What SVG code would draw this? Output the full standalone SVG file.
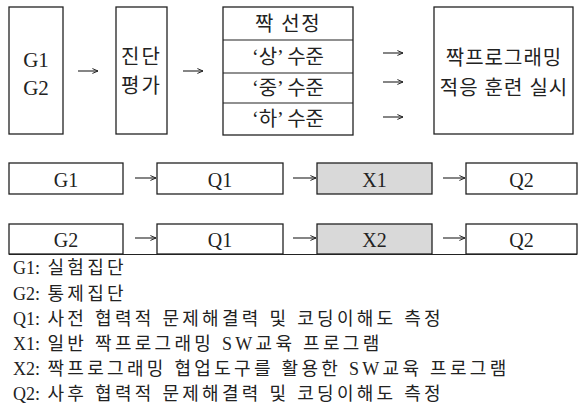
<svg xmlns="http://www.w3.org/2000/svg" width="586" height="409" viewBox="0 0 586 409">
<defs>
<style>
.box{fill:#ffffff;stroke:#222;stroke-width:1.3}
.gray{fill:#d9d9d9;stroke:#222;stroke-width:1.3}
.t{font-family:"Liberation Serif","Noto Sans CJK KR",serif;fill:#222;text-anchor:middle}
.big{font-size:21px}
.mid{font-size:20px}
.leg{font-family:"Liberation Serif","Noto Sans CJK KR",serif;font-size:18px;fill:#222}
.ko{letter-spacing:3.3px}
.arr{stroke:#222;stroke-width:1.1;fill:none}
</style>
<marker id="ah" viewBox="0 0 10 10" refX="9" refY="5" markerWidth="7" markerHeight="7" markerUnits="userSpaceOnUse" orient="auto">
<path d="M1,1.5 L9,5 L1,8.5" fill="none" stroke="#222" stroke-width="1.4"/>
</marker>
</defs>
<rect width="586" height="409" fill="#ffffff"/>

<g id="node-groups">
<rect class="box" x="9" y="7" width="54" height="127"/>
<text class="t big" x="36" y="67">G1</text>
<text class="t big" x="36" y="95">G2</text>
</g>

<g id="node-diagnosis">
<rect class="box" x="116" y="7" width="51" height="127"/>
<text class="t mid" x="141.5" y="64" letter-spacing="2">진단</text>
<text class="t mid" x="141.5" y="93" letter-spacing="2">평가</text>
</g>

<g id="node-pair">
<rect class="box" x="223" y="7" width="130" height="128"/>
<line class="arr" x1="223" y1="40" x2="353" y2="40"/>
<line class="arr" x1="223" y1="73" x2="353" y2="73"/>
<line class="arr" x1="223" y1="103" x2="353" y2="103"/>
<text class="t mid" x="288" y="31" letter-spacing="1.5">짝 선정</text>
<text class="t mid" x="288" y="64">‘상’ 수준</text>
<text class="t mid" x="288" y="95">‘중’ 수준</text>
<text class="t mid" x="288" y="126">‘하’ 수준</text>
</g>

<g id="node-training">
<rect class="box" x="434" y="7" width="139" height="127"/>
<text class="t mid" x="504" y="65" letter-spacing="1">짝프로그래밍</text>
<text class="t mid" x="504" y="95" letter-spacing="1">적응 훈련 실시</text>
</g>

<g id="node-row1">
<rect class="box" x="9" y="163" width="114" height="31"/>
<text class="t mid" x="66" y="187">G1</text>
<rect class="box" x="157" y="163" width="126" height="31"/>
<text class="t mid" x="220" y="187">Q1</text>
<rect class="gray" x="317" y="163" width="115" height="31"/>
<text class="t mid" x="374.5" y="187">X1</text>
<rect class="box" x="466" y="163" width="111" height="31"/>
<text class="t mid" x="521.5" y="187">Q2</text>
</g>

<g id="node-row2">
<rect class="box" x="9" y="224" width="114" height="30"/>
<text class="t mid" x="66" y="247">G2</text>
<rect class="box" x="157" y="224" width="126" height="30"/>
<text class="t mid" x="220" y="247">Q1</text>
<rect class="gray" x="317" y="224" width="115" height="30"/>
<text class="t mid" x="374.5" y="247">X2</text>
<rect class="box" x="466" y="224" width="111" height="30"/>
<text class="t mid" x="521.5" y="247">Q2</text>
<line class="arr" x1="9" y1="254.5" x2="577" y2="254.5" stroke-width="1.4"/>
</g>

<g id="connectors">
<path class="arr" d="M78,71 H98" marker-end="url(#ah)"/>
<path class="arr" d="M183,71 H203" marker-end="url(#ah)"/>
<path class="arr" d="M383,53 H403" marker-end="url(#ah)"/>
<path class="arr" d="M383,82 H403" marker-end="url(#ah)"/>
<path class="arr" d="M383,117 H403" marker-end="url(#ah)"/>
<path class="arr" d="M135,178 H156" marker-end="url(#ah)"/>
<path class="arr" d="M293,178 H316" marker-end="url(#ah)"/>
<path class="arr" d="M443,178 H465" marker-end="url(#ah)"/>
<path class="arr" d="M135,238 H156" marker-end="url(#ah)"/>
<path class="arr" d="M293,238 H316" marker-end="url(#ah)"/>
<path class="arr" d="M443,238 H465" marker-end="url(#ah)"/>
</g>

<g id="legend">
<text class="leg" x="13" y="274">G1: <tspan class="ko" dx="3">실험집단</tspan></text>
<text class="leg" x="13" y="299.5">G2: <tspan class="ko" dx="3">통제집단</tspan></text>
<text class="leg" x="13" y="325">Q1: <tspan class="ko" dx="3">사전 협력적 문제해결력 및 코딩이해도 측정</tspan></text>
<text class="leg" x="13" y="350">X1: <tspan class="ko" dx="3">일반 짝프로그래밍 SW교육 프로그램</tspan></text>
<text class="leg" x="13" y="375">X2: <tspan class="ko" dx="3">짝프로그래밍 협업도구를 활용한 SW교육 프로그램</tspan></text>
<text class="leg" x="13" y="400">Q2: <tspan class="ko" dx="3">사후 협력적 문제해결력 및 코딩이해도 측정</tspan></text>
</g>
</svg>
